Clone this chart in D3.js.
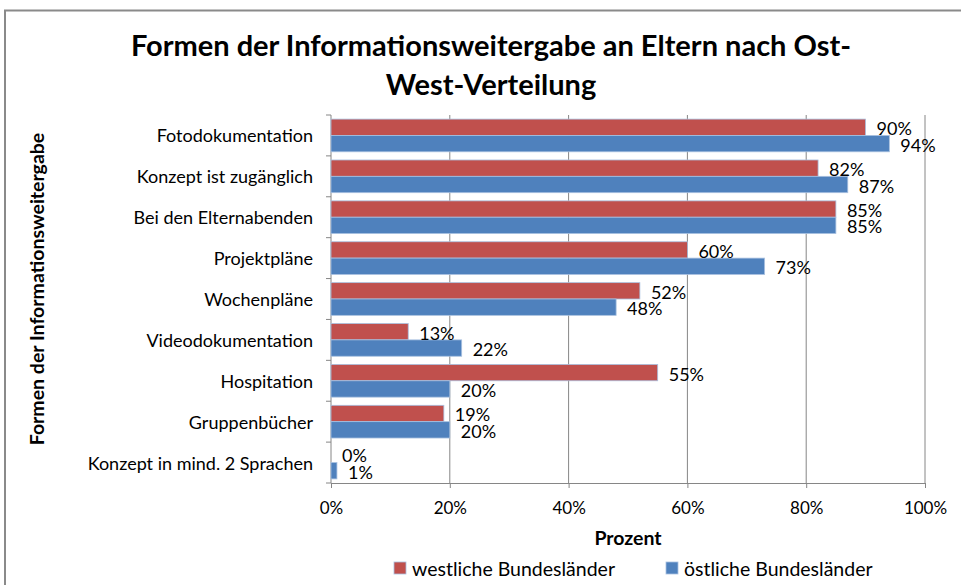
<!DOCTYPE html>
<html>
<head>
<meta charset="utf-8">
<script src="https://cdn.jsdelivr.net/npm/d3@7/dist/d3.min.js"></script>
<style>
  html, body { margin: 0; padding: 0; background: #fff; }
  svg { display: block; font-family: Lato, "Open Sans", sans-serif; }
</style>
</head>
<body>
<svg id="chart" width="961" height="585"></svg>
<script>
// Categories, top to bottom
const categories = [
  "Fotodokumentation",
  "Konzept ist zugänglich",
  "Bei den Elternabenden",
  "Projektpläne",
  "Wochenpläne",
  "Videodokumentation",
  "Hospitation",
  "Gruppenbücher",
  "Konzept in mind. 2 Sprachen"
];
// Share per category, in percent
const westValues = [90, 82, 85, 60, 52, 13, 55, 19, 0];
const eastValues = [94, 87, 85, 73, 48, 22, 20, 20, 1];
const seriesNames = ["westliche Bundesländer", "östliche Bundesländer"];
const seriesColors = ["#C0504D", "#4F81BD"];
const xTicks = [0, 20, 40, 60, 80, 100];
const titleLines = ["Formen der Informationsweitergabe an Eltern nach Ost-", "West-Verteilung"];
const xTitle = "Prozent";
const yTitle = "Formen der Informationsweitergabe";

const svg = d3.select("#chart");
const plot = { left: 331, right: 925, top: 115, bottom: 483 };

// outer chart frame
svg.append("rect")
  .attr("x", 5).attr("y", 10.5)
  .attr("width", 1000).attr("height", 700)
  .attr("fill", "#fff")
  .attr("stroke", "#8a8a8a").attr("stroke-width", 2);

const x = d3.scaleLinear().domain([0, 100]).range([plot.left, plot.right]);
const y = d3.scaleBand().domain(categories).range([plot.top, plot.bottom])
  .paddingInner(0.2).paddingOuter(0.1);
const ySub = d3.scaleBand().domain([0, 1]).range([0, y.bandwidth()]);

const rows = categories.map((c, i) => ({ cat: c, vals: [westValues[i], eastValues[i]] }));

// vertical gridlines
svg.append("g").selectAll("line")
  .data(xTicks.filter(t => t > 0))
  .join("line")
  .attr("x1", d => x(d)).attr("x2", d => x(d))
  .attr("y1", plot.top).attr("y2", plot.bottom)
  .attr("stroke", "#868686").attr("stroke-width", 1);

// bottom axis
const xAxis = d3.axisBottom(x).tickValues(xTicks).tickFormat(d => d + "%").tickSize(5).tickPadding(14);
const gx = svg.append("g").attr("transform", `translate(0,${plot.bottom})`).call(xAxis);
gx.select(".domain").attr("stroke", "#868686");
gx.selectAll(".tick line").attr("stroke", "#868686");
gx.selectAll(".tick text").attr("font-size", 17).attr("fill", "#000")
  .attr("font-family", "Lato, sans-serif");

// left axis with ticks at category boundaries
const gy = svg.append("g");
gy.append("line")
  .attr("x1", plot.left).attr("x2", plot.left)
  .attr("y1", plot.top).attr("y2", plot.bottom)
  .attr("stroke", "#868686");
const boundaries = d3.range(categories.length + 1).map(i => plot.top + i * y.step());
gy.selectAll("line.tick").data(boundaries).join("line")
  .attr("class", "tick")
  .attr("x1", plot.left - 5).attr("x2", plot.left)
  .attr("y1", d => d).attr("y2", d => d)
  .attr("stroke", "#868686");
gy.selectAll("text").data(categories).join("text")
  .attr("x", plot.left - 18)
  .attr("y", d => y(d) + y.bandwidth() / 2)
  .attr("text-anchor", "end")
  .attr("dominant-baseline", "central")
  .attr("font-size", 18)
  .text(d => d);

// bars
const groups = svg.append("g").selectAll("g").data(rows).join("g")
  .attr("transform", d => `translate(0,${y(d.cat)})`);
groups.selectAll("rect").data(d => d.vals.map((v, k) => ({ v, k })))
  .join("rect")
  .attr("x", x(0))
  .attr("y", d => ySub(d.k))
  .attr("width", d => x(d.v) - x(0))
  .attr("height", ySub.bandwidth())
  .attr("fill", d => seriesColors[d.k])
  .attr("stroke", "#a9c1e0").attr("stroke-width", 0.8);

// value labels
groups.selectAll("text").data(d => d.vals.map((v, k) => ({ v, k })))
  .join("text")
  .attr("x", d => x(d.v) + 11)
  .attr("y", d => ySub(d.k) + ySub.bandwidth() / 2 + 1)
  .attr("dominant-baseline", "central")
  .attr("font-size", 18)
  .text(d => d.v + "%");

// title
svg.append("g").selectAll("text").data(titleLines).join("text")
  .attr("x", 491).attr("y", (d, i) => 56 + i * 39)
  .attr("text-anchor", "middle")
  .attr("font-size", 29).attr("font-weight", "bold")
  .text(d => d);

// axis titles
svg.append("text")
  .attr("x", (plot.left + plot.right) / 2).attr("y", 545)
  .attr("text-anchor", "middle")
  .attr("font-size", 19.5).attr("font-weight", "bold")
  .text(xTitle);
svg.append("text")
  .attr("transform", "translate(36,289) rotate(-90)")
  .attr("text-anchor", "middle")
  .attr("dominant-baseline", "central")
  .attr("font-size", 19.5).attr("font-weight", "bold")
  .text(yTitle);

// legend
const legendX = [394, 666];
const lg = svg.append("g").selectAll("g").data(seriesNames).join("g")
  .attr("transform", (d, i) => `translate(${legendX[i]},568)`);
lg.append("rect")
  .attr("x", 0).attr("y", -6).attr("width", 12).attr("height", 12)
  .attr("fill", (d, i) => seriesColors[i])
  .attr("stroke", "#a9c1e0").attr("stroke-width", 0.8);
lg.append("text")
  .attr("x", 18).attr("y", 0)
  .attr("dominant-baseline", "central")
  .attr("font-size", 19.5)
  .text(d => d);
</script>
</body>
</html>
